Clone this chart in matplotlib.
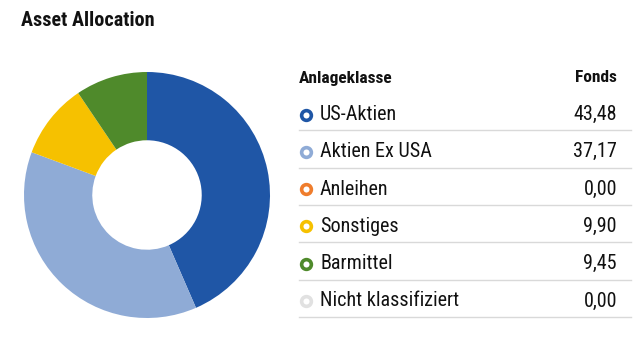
import matplotlib
matplotlib.use("Agg")
import matplotlib.pyplot as plt
from matplotlib.lines import Line2D

categories = ["US-Aktien", "Aktien Ex USA", "Anleihen", "Sonstiges", "Barmittel", "Nicht klassifiziert"]
values = [43.48, 37.17, 0.00, 9.90, 9.45, 0.00]
value_labels = ["43,48", "37,17", "0,00", "9,90", "9,45", "0,00"]
colors = ["#1f56a6", "#8fabd6", "#ef7d2d", "#f6c100", "#4f8a2b", "#e1e1e1"]
title = "Asset Allocation"
col_headers = ["Anlageklasse", "Fonds"]

W, H = 640, 344
FONT = ["Roboto Condensed", "DejaVu Sans"]
fig = plt.figure(figsize=(W / 100, H / 100), dpi=100)
fig.patch.set_facecolor("white")

def fx(x):
    return x / W

def fy(y):
    return 1 - y / H

# Donut
cx, cy, r = 147, 195, 123
ax = fig.add_axes([fx(cx - r), (H - cy - r) / H, 2 * r / W, 2 * r / H])
ax.pie(values, colors=colors, startangle=90, counterclock=False,
       wedgeprops=dict(width=0.555, linewidth=0), radius=1)
ax.set_xlim(-1, 1)
ax.set_ylim(-1, 1)
ax.set_aspect("equal")
ax.axis("off")

# Title
fig.text(fx(21), fy(20), title, fontsize=14.5, fontweight="bold", family=FONT,
         va="center", ha="left", color="#111111")

# Table header
fig.text(fx(299), fy(78), col_headers[0], fontsize=12.5, fontweight="bold", family=FONT,
         va="center", ha="left", color="#111111")
fig.text(fx(617), fy(78), col_headers[1], fontsize=12.5, fontweight="bold", family=FONT,
         va="center", ha="right", color="#111111")

row_y0, row_dy = 114.5, 37.3
for i, (cat, lab, col) in enumerate(zip(categories, value_labels, colors)):
    y = row_y0 + i * row_dy
    fig.add_artist(Line2D([fx(305.5)], [fy(y)], marker="o", markersize=7.0,
                          markerfacecolor="white", markeredgecolor=col,
                          markeredgewidth=2.6, transform=fig.transFigure))
    fig.text(fx(320), fy(y), cat, fontsize=14.5, family=FONT,
             va="center", ha="left", color="#111111")
    fig.text(fx(617), fy(y), lab, fontsize=14.5, family=FONT,
             va="center", ha="right", color="#111111")
    ly = y + 15.8
    fig.add_artist(Line2D([fx(299), fx(631)], [fy(ly), fy(ly)], color="#d9d9d9",
                          linewidth=1.0, transform=fig.transFigure))

fig.savefig("out.png", dpi=100, facecolor="white")
